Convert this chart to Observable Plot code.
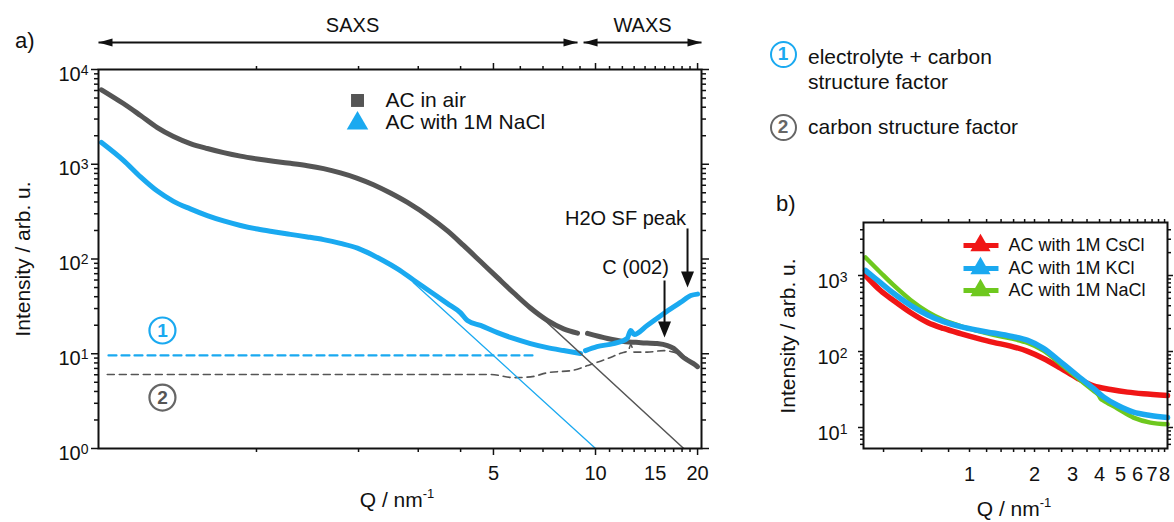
<!DOCTYPE html>
<html><head><meta charset="utf-8">
<script src="https://cdn.jsdelivr.net/npm/d3@7"></script>
<script src="https://cdn.jsdelivr.net/npm/@observablehq/plot@0.6"></script>
<style>
body{margin:0;background:#fff;}
#wrap{position:relative;width:1174px;height:522px;overflow:hidden;font-family:"Liberation Sans",Arial,Helvetica,sans-serif;color:#111;}
.lbl{position:absolute;white-space:nowrap;line-height:1;}
.lbl sup{font-size:13px;line-height:0;vertical-align:0;position:relative;top:-9px;}
.circ{position:absolute;box-sizing:border-box;width:27px;height:27px;border-radius:50%;border:2.4px solid;font-weight:bold;font-size:19px;line-height:22px;text-align:center;}
#pa,#pb{position:absolute;top:0;}
#pa{left:0;} #pb{left:740px;}
</style></head><body><div id="wrap"><div id="pa"></div><div id="pb"></div></div>
<script>
// ===================== Panel a data =====================
// AC in air (SAXS part)
const qAirSAXS = [0.349,0.405,0.455,0.510,0.569,0.638,0.716,0.80,0.897,1.007,1.122,1.259,1.413,1.577,1.769,1.986,2.213,2.484,2.788,3.26,3.66,4.08,4.58,5.14,5.73,6.43,7.21,8.05,8.85];
const iAirSAXS = [6110,4375,3270,2440,1963,1655,1466,1327,1218,1137,1076,1022,965,898,810,711,608,497,395,273,198,139,94,63.5,44,30.4,22.5,18.3,16.5];
// AC in air (WAXS part)
const qAirWAXS = [9.47,10.85,12.1,13.6,15.2,16.3,17.0,18.2,19.4,20.0];
const iAirWAXS = [16.4,14.5,13.5,13.1,12.8,12.2,11.4,9.1,7.9,7.3];
// AC with 1M NaCl (SAXS part)
const qNaSAXS = [0.349,0.405,0.455,0.510,0.569,0.638,0.716,0.80,0.897,1.007,1.122,1.259,1.413,1.577,1.769,1.986,2.213,2.37,2.606,2.904,3.26,3.66,4.0,4.19,4.58,5.14,5.73,6.43,7.21,8.05,9.03];
const iNaSAXS = [1698,1100,736,521,406,338,287,252,226,207,194,182,171,160,146,130,109,96,78.8,60.1,45.1,33.8,27.0,22.4,19.9,16.7,14.5,12.8,11.6,10.8,10.07];
// AC with 1M NaCl (WAXS part)
const qNaWAXS = [9.34,10.1,11.3,12.4,12.7,13.0,14.2,15.9,17.8,19.1,20.0];
const iNaWAXS = [10.8,11.9,12.8,14.5,17.6,16.0,19.9,26.6,34.8,41.2,42.6];
// (2) carbon structure factor (grey dashed)
const qCarbonSF = [0.363,4.9,5.73,6.43,7.21,8.6,9.47,10.85,11.85,12.5,12.7,13.0,14.2,15.9,17.0,18.7,19.8];
const iCarbonSF = [6.04,6.04,5.6,5.7,6.3,6.7,7.5,8.9,10.1,10.8,12.5,10.4,10.4,10.8,10.4,8.9,7.2];
// (1) electrolyte + carbon structure factor (blue dashed)
const qElecSF = [0.366,6.65];
const iElecSF = [9.6,9.6];
// power-law (Porod) fits
const qFitNa = [2.9,10];   const iFitNa = [56.6,1];
const qFitAir = [5.3,18.2]; const iFitAir = [58.6,1];
// ticks
const xTicksA = [1,2,3,4,5,6,7,8,9,10,11,12,13,14,15,16,17,18,19,20];
const xLongA = [5,10,20];
const xLabelsA = [5,10,15,20];
const yMajorA = [1,10,100,1000,10000];
const legendA = ["AC in air","AC with 1M NaCl"];

// ===================== Panel b data =====================
const qCsCl = [0.33,0.387,0.445,0.533,0.64,0.758,0.909,1.09,1.29,1.55,1.86,2.2,2.64,3.16,3.75,4.5,5.39,6.39,8.26];
const iCsCl = [1000,635,469,326,241,201,172,149,132,118,100.6,81,60.4,44.5,35.3,31.7,29.2,27.8,26.4];
const qKCl = [0.33,0.387,0.445,0.533,0.64,0.758,0.909,1.09,1.29,1.55,1.86,2.2,2.64,3.16,3.75,4.17,4.84,5.74,6.88,8.26];
const iKCl = [1164,807,583,405,303,247,212,190,175,159,140,110,72.9,48.3,32.6,25.3,19.6,15.9,14.4,13.5];
const qNaCl = [0.33,0.387,0.445,0.533,0.64,0.758,0.909,1.09,1.29,1.55,1.86,2.2,2.64,3.16,3.75,3.95,4.05,4.17,4.84,5.74,6.88,8.26];
const iNaCl = [1725,1096,745,477,332,259,216,187,166,149,130,103,68.7,45.1,30.5,27.0,24.0,22.6,17.8,13.5,11.6,11];
const seriesB = ["AC with 1M CsCl","AC with 1M KCl","AC with 1M NaCl"];
const xTicksB = [0.4,0.6,0.8,1,1.2,1.4,1.6,1.8,2,2.33,2.67,3,3.5,4,4.5,5,5.5,6,6.5,7,7.5,8];
const xLabelsB = [1,2,3,4,5,6,7,8];
const yMajorB = [10,100,1000];

// ===================== styles =====================
const FONT = '"Liberation Sans", Arial, Helvetica, sans-serif';
const GREY = "#555555", BLUE = "#1aa9f0", RED = "#f01616", GREEN = "#6ec81e";
const pts = (q, I) => q.map((d, i) => ({q: d, I: I[i]}));
const minorLog = (lo, hi, dom) => { const o = []; for (let e = lo; e < hi; e++) for (let m = 2; m <= 9; m++) { const v = m * 10 ** e; if (v > dom[0] && v < dom[1]) o.push(v); } return o; };
const headBig = {draw(c){ c.moveTo(0,0); c.lineTo(-6.5,-16); c.lineTo(6.5,-16); c.closePath(); }};
const headSlim = {draw(c){ c.moveTo(0,0); c.lineTo(-4,-14); c.lineTo(4,-14); c.closePath(); }};
const sup = d => "10^" + Math.round(Math.log10(d));
const blank = () => "";
const baseStyle = {fontFamily: FONT, fontSize: "20px", color: "#111", background: "transparent", overflow: "visible"};
// x tick labels drawn as text marks (the log scale's own formatter would hide 3..8)
const xLabelMark = (vals, dy) => Plot.text(vals, {x: d => d, frameAnchor: "bottom", lineAnchor: "top", dy, text: d => String(d), fontSize: 20, fill: "#111"});

function supify(svg, baseY, supSize, supDy) {
  const ns = "http://www.w3.org/2000/svg";
  svg.querySelectorAll("text").forEach(t => {
    const m = /^10\^(-?\d+)$/.exec(t.textContent);
    if (!m) return;
    t.textContent = "";
    t.removeAttribute("dy");
    t.setAttribute("y", baseY);
    const a = document.createElementNS(ns, "tspan"); a.textContent = "10";
    const b = document.createElementNS(ns, "tspan"); b.textContent = m[1];
    b.setAttribute("font-size", supSize); b.setAttribute("dy", supDy);
    t.append(a, b);
  });
}

// ===================== Panel a =====================
const yDomA = [1, 10000];
const plotA = Plot.plot({
  width: 740, height: 522,
  marginLeft: 98, marginRight: 39, marginTop: 69, marginBottom: 74,
  x: {type: "log", domain: [0.342, 20.54]},
  y: {type: "log", domain: yDomA},
  style: baseStyle,
  marks: [
    Plot.axisX(xLongA, {anchor: "bottom", tickSize: 7, tickFormat: blank, strokeWidth: 1.5, label: null}),
    Plot.axisX(xTicksA.filter(d => !xLongA.includes(d)), {anchor: "bottom", tickSize: 4, tickFormat: blank, strokeWidth: 1.5, label: null}),
    xLabelMark(xLabelsA, 17),
    Plot.axisX(xLongA, {anchor: "top", tickSize: 7, tickFormat: blank, strokeWidth: 1.5, label: null}),
    Plot.axisX(xTicksA.filter(d => !xLongA.includes(d)), {anchor: "top", tickSize: 4, tickFormat: blank, strokeWidth: 1.5, label: null}),
    Plot.axisY(yMajorA, {anchor: "left", tickSize: 7, tickPadding: 3, tickFormat: sup, fontSize: 20, strokeWidth: 1.5, label: null}),
    Plot.axisY(minorLog(0, 4, yDomA), {anchor: "left", tickSize: 4, tickFormat: blank, strokeWidth: 1.5, label: null}),
    Plot.axisY(yMajorA, {anchor: "right", tickSize: 7, tickFormat: blank, strokeWidth: 1.5, label: null}),
    Plot.axisY(minorLog(0, 4, yDomA), {anchor: "right", tickSize: 4, tickFormat: blank, strokeWidth: 1.5, label: null}),
    // structure-factor baselines
    Plot.line(pts(qCarbonSF, iCarbonSF), {x: "q", y: "I", stroke: GREY, strokeWidth: 1.6, strokeDasharray: "7,5", curve: "monotone-x"}),
    Plot.line(pts(qElecSF, iElecSF), {x: "q", y: "I", stroke: BLUE, strokeWidth: 2.2, strokeDasharray: "8,5"}),
    // measured curves
    Plot.line(pts(qAirSAXS, iAirSAXS), {x: "q", y: "I", stroke: GREY, strokeWidth: 5, curve: "catmull-rom"}),
    Plot.line(pts(qAirWAXS, iAirWAXS), {x: "q", y: "I", stroke: GREY, strokeWidth: 5, curve: "catmull-rom"}),
    Plot.line(pts(qNaSAXS, iNaSAXS), {x: "q", y: "I", stroke: BLUE, strokeWidth: 5, curve: "monotone-x"}),
    Plot.line(pts(qNaWAXS, iNaWAXS), {x: "q", y: "I", stroke: BLUE, strokeWidth: 5, curve: "monotone-x"}),
    // power-law fits
    Plot.line(pts(qFitNa, iFitNa), {x: "q", y: "I", stroke: BLUE, strokeWidth: 1.3}),
    Plot.line(pts(qFitAir, iFitAir), {x: "q", y: "I", stroke: GREY, strokeWidth: 1.5}),
    Plot.frame({stroke: "#111", strokeWidth: 2}),
    // legend
    Plot.dot([{q: 1.986, I: 4710}], {x: "q", y: "I", symbol: "square", r: 7.3, fill: GREY}),
    Plot.dot([{q: 1.986, I: 2700}], {x: "q", y: "I", symbol: "triangle", r: 8, fill: BLUE}),
    Plot.text([{q: 2.40, I: 4710, t: legendA[0]}, {q: 2.40, I: 2758, t: legendA[1]}], {x: "q", y: "I", text: "t", textAnchor: "start", fontSize: 21, fill: "#111"}),
    // SAXS / WAXS range arrows
    Plot.link([{a: 0.342, b: 8.85}, {a: 9.22, b: 20.54}], {x1: "a", x2: "b", y1: () => 19270, y2: () => 19270, stroke: "#111", strokeWidth: 2}),
    Plot.dot([{q: 0.342}, {q: 9.22}], {x: "q", y: () => 19270, symbol: headSlim, fill: "#111", rotate: 90}),
    Plot.dot([{q: 8.85}, {q: 20.54}], {x: "q", y: () => 19270, symbol: headSlim, fill: "#111", rotate: -90}),
    Plot.text([{q: 1.92, t: "SAXS"}, {q: 13.76, t: "WAXS"}], {x: "q", y: () => 28800, text: "t", fontSize: 20, fill: "#111"}),
    // peak annotations
    Plot.text([{q: 12.26, I: 267.6, t: "H2O SF peak"}, {q: 13.12, I: 81.3, t: "C (002)"}], {x: "q", y: "I", text: "t", fontSize: 20, fill: "#111"}),
    Plot.link([{q: 18.68, a: 210, b: 65}, {q: 15.98, a: 59.3, b: 20}], {x1: "q", x2: "q", y1: "a", y2: "b", stroke: "#111", strokeWidth: 2}),
    Plot.dot([{q: 18.68, I: 50}, {q: 15.98, I: 14.8}], {x: "q", y: "I", symbol: headBig, fill: "#111"}),
    // circled markers (1) and (2)
    Plot.dot([{q: 0.528, I: 17.6, c: BLUE}, {q: 0.528, I: 3.45, c: "#666666"}], {x: "q", y: "I", r: 13, stroke: "c", fill: "white", strokeWidth: 2.2}),
    Plot.text([{q: 0.528, I: 17.6, t: "1", c: BLUE}, {q: 0.528, I: 3.45, t: "2", c: "#555555"}], {x: "q", y: "I", text: "t", fill: "c", fontSize: 19, fontWeight: "bold"})
  ]
});
supify(plotA, 11, 14, -6);
document.getElementById("pa").append(plotA);

// ===================== Panel b =====================
const yDomB = [5.293, 4982];
const legY = [2483, 1236, 635];
const colorsB = [RED, BLUE, GREEN];
const plotB = Plot.plot({
  width: 434, height: 522,
  marginLeft: 123, marginRight: 7, marginTop: 222, marginBottom: 74,
  x: {type: "log", domain: [0.323, 8.254]},
  y: {type: "log", domain: yDomB},
  style: baseStyle,
  marks: [
    Plot.axisX(xTicksB, {anchor: "bottom", tickSize: 4, tickFormat: blank, strokeWidth: 1.5, label: null}),
    xLabelMark(xLabelsB, 18),
    Plot.axisX(xTicksB, {anchor: "top", tickSize: 4, tickFormat: blank, strokeWidth: 1.5, label: null}),
    Plot.axisY(yMajorB, {anchor: "left", tickSize: 5, tickPadding: 11, tickFormat: sup, fontSize: 20, strokeWidth: 1.5, label: null}),
    Plot.axisY(minorLog(0, 4, yDomB), {anchor: "left", tickSize: 3, tickFormat: blank, strokeWidth: 1.5, label: null}),
    Plot.axisY(yMajorB, {anchor: "right", tickSize: 5, tickFormat: blank, strokeWidth: 1.5, label: null}),
    Plot.axisY(minorLog(0, 4, yDomB), {anchor: "right", tickSize: 3, tickFormat: blank, strokeWidth: 1.5, label: null}),
    Plot.line(pts(qCsCl, iCsCl), {x: "q", y: "I", stroke: RED, strokeWidth: 5.5, curve: "catmull-rom"}),
    Plot.line(pts(qNaCl, iNaCl), {x: "q", y: "I", stroke: GREEN, strokeWidth: 4.5, curve: "catmull-rom"}),
    Plot.line(pts(qKCl, iKCl), {x: "q", y: "I", stroke: BLUE, strokeWidth: 5.5, curve: "catmull-rom"}),
    Plot.frame({stroke: "#111", strokeWidth: 2}),
    // legend
    Plot.link(seriesB.map((s, i) => ({I: legY[i], c: colorsB[i]})), {x1: () => 0.938, x2: () => 1.362, y1: "I", y2: "I", stroke: "c", strokeWidth: 5}),
    Plot.dot(seriesB.map((s, i) => ({I: legY[i], c: colorsB[i]})), {x: () => 1.124, y: "I", symbol: "triangle", r: 7.5, fill: "c"}),
    Plot.text(seriesB.map((s, i) => ({I: legY[i], t: s})), {x: () => 1.515, y: "I", text: "t", textAnchor: "start", fontSize: 18, fill: "#111"})
  ]
});
supify(plotB, 12, 14, -6);
document.getElementById("pb").append(plotB);

// ===================== overlay labels =====================
const wrap = document.getElementById("wrap");
function lbl(html, css) { const d = document.createElement("div"); d.className = "lbl"; d.innerHTML = html; Object.assign(d.style, css); wrap.append(d); return d; }
lbl("a)", {left: "15px", top: "30px", fontSize: "22px"});
lbl("b)", {left: "776px", top: "193px", fontSize: "22px"});
lbl("Intensity / arb. u.", {left: "22px", top: "259px", fontSize: "21px", transform: "translate(-50%,-50%) rotate(-90deg)"});
lbl("Intensity / arb. u.", {left: "787px", top: "336px", fontSize: "21px", transform: "translate(-50%,-50%) rotate(-90deg)"});
lbl("Q / nm<sup>-1</sup>", {left: "397px", top: "489px", fontSize: "21px", transform: "translateX(-50%)"});
lbl("Q / nm<sup>-1</sup>", {left: "1014px", top: "498px", fontSize: "21px", transform: "translateX(-50%)"});
// right-hand key for the circled markers
function circ(n, color, cx, cy) { const d = document.createElement("div"); d.className = "circ"; d.textContent = n; Object.assign(d.style, {left: (cx - 13.5) + "px", top: (cy - 13.5) + "px", color, borderColor: color}); wrap.append(d); }
circ("1", BLUE, 783, 54);
circ("2", "#666666", 783, 127);
lbl("electrolyte + carbon<br>structure factor", {left: "808px", top: "44px", fontSize: "21px", lineHeight: "25px"});
lbl("carbon structure factor", {left: "808px", top: "116px", fontSize: "21px"});
</script>
</body></html>
